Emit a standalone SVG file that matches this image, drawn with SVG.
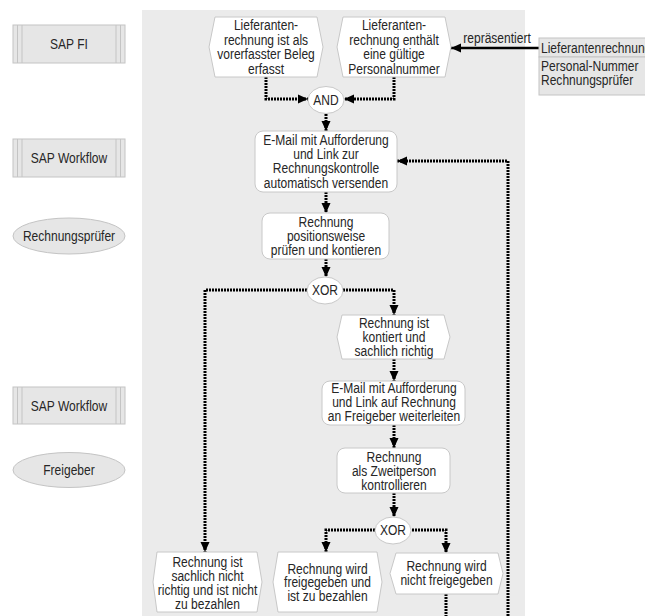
<svg xmlns="http://www.w3.org/2000/svg" width="645" height="616" viewBox="0 0 645 616">
<style>
text{font-family:"Liberation Sans",Arial,sans-serif;font-size:14.5px;fill:#262626;text-anchor:middle}
.bg{fill:#ebebeb}
.ev{fill:#fff;stroke:#c8c8c8;stroke-width:1}
.fn{fill:#fff;stroke:#c8c8c8;stroke-width:1}
.sys{fill:#e6e6e6;stroke:#c4c4c4;stroke-width:1}
.sysl{stroke:#c4c4c4;stroke-width:1;fill:none}
.role{fill:#e6e6e6;stroke:#c4c4c4;stroke-width:1}
.op{fill:#fff;stroke:#c8c8c8;stroke-width:1}
.obj{fill:#e6e6e6;stroke:#c4c4c4;stroke-width:1}
.flow{fill:none;stroke:#000;stroke-width:3;stroke-dasharray:2 1;marker-end:url(#ah)}
.flown{fill:none;stroke:#000;stroke-width:3;stroke-dasharray:2 1}
.rep{fill:none;stroke:#000;stroke-width:2.5;marker-end:url(#ah)}
.l{text-anchor:start}
</style>
<defs>
<marker id="ah" markerUnits="userSpaceOnUse" markerWidth="10" markerHeight="10" viewBox="0 0 10 10" refX="10" refY="5" orient="auto">
<path d="M0,0.5 L10,5 L0,9.5 Z" fill="#000"/>
</marker>
</defs>
<rect class="bg" x="142" y="10" width="383" height="606"/>

<g id="sap-fi">
<rect class="sys" x="13" y="25" width="112" height="38"/>
<path class="sysl" d="M17.5 25V63M22 25V63M116 25V63M120.5 25V63"/>
<g transform="translate(69 0) scale(0.83 1)"><text x="0" y="49.5">SAP FI</text></g>
</g>
<g id="sap-workflow-1">
<rect class="sys" x="13" y="139" width="112" height="38"/>
<path class="sysl" d="M17.5 139V177M22 139V177M116 139V177M120.5 139V177"/>
<g transform="translate(69 0) scale(0.83 1)"><text x="0" y="163.5">SAP Workflow</text></g>
</g>
<g id="rechnungspruefer">
<ellipse class="role" cx="69" cy="236" rx="56" ry="18"/>
<g transform="translate(69 0) scale(0.83 1)"><text x="0" y="241">Rechnungsprüfer</text></g>
</g>
<g id="sap-workflow-2">
<rect class="sys" x="13" y="387" width="112" height="37"/>
<path class="sysl" d="M17.5 387V424M22 387V424M116 387V424M120.5 387V424"/>
<g transform="translate(69 0) scale(0.83 1)"><text x="0" y="411">SAP Workflow</text></g>
</g>
<g id="freigeber">
<ellipse class="role" cx="69" cy="470" rx="56" ry="17.5"/>
<g transform="translate(69 0) scale(0.83 1)"><text x="0" y="475">Freigeber</text></g>
</g>

<g id="connectors">
<path class="flow" d="M266 77V99H308"/>
<path class="flow" d="M394 77V99H344"/>
<path class="flow" d="M326 114V131"/>
<path class="flow" d="M326 192V213"/>
<path class="flow" d="M326 259V277"/>
<path class="flow" d="M307 290H205V552"/>
<path class="flow" d="M343 290H394V315"/>
<path class="flow" d="M394 359V381"/>
<path class="flow" d="M394 425V448"/>
<path class="flow" d="M394 493V517"/>
<path class="flow" d="M375 530H326V552"/>
<path class="flow" d="M412 530H446V553"/>
<path class="flown" d="M446 594V616"/>
<path class="flow" d="M508 616V161H397"/>
<path class="rep" d="M539 48H451"/>
<g transform="translate(497 0) scale(0.83 1)"><text x="0" y="43">repräsentiert</text></g>
</g>

<g id="ev-vorerfasst">
<path class="ev" d="M209 47L215 17H317L323 47L317 77H215Z"/>
<g transform="translate(266 0) scale(0.83 1)">
<text x="0" y="30.5">Lieferanten-</text>
<text x="0" y="45">rechnung ist als</text>
<text x="0" y="59.5">vorerfasster Beleg</text>
<text x="0" y="74">erfasst</text>
</g>
</g>
<g id="ev-personalnummer">
<path class="ev" d="M337 47L343 17H445L451 47L445 77H343Z"/>
<g transform="translate(394 0) scale(0.83 1)">
<text x="0" y="30.5">Lieferanten-</text>
<text x="0" y="45">rechnung enthält</text>
<text x="0" y="59.5">eine gültige</text>
<text x="0" y="74">Personalnummer</text>
</g>
</g>
<g id="obj-lieferantenrechnung">
<rect class="obj" x="539" y="38" width="110" height="19"/>
<rect class="obj" x="539" y="57" width="110" height="38"/>
<g transform="translate(541 0) scale(0.83 1)">
<text class="l" x="0" y="53">Lieferantenrechnung</text>
<text class="l" x="0" y="71.5">Personal-Nummer</text>
<text class="l" x="0" y="85.5">Rechnungsprüfer</text>
</g>
</g>
<g id="and">
<ellipse class="op" cx="326" cy="100" rx="18" ry="13.5"/>
<g transform="translate(326 0) scale(0.83 1)"><text x="0" y="105">AND</text></g>
</g>
<g id="fn-email-1">
<rect class="fn" x="255" y="131" width="142" height="61" rx="8"/>
<g transform="translate(326 0) scale(0.83 1)">
<text x="0" y="145">E-Mail mit Aufforderung</text>
<text x="0" y="159.5">und Link zur</text>
<text x="0" y="173.5">Rechnungskontrolle</text>
<text x="0" y="188">automatisch versenden</text>
</g>
</g>
<g id="fn-pruefen">
<rect class="fn" x="262" y="213" width="127" height="46" rx="8"/>
<g transform="translate(326 0) scale(0.83 1)">
<text x="0" y="227">Rechnung</text>
<text x="0" y="241.5">positionsweise</text>
<text x="0" y="255.5">prüfen und kontieren</text>
</g>
</g>
<g id="xor-1">
<ellipse class="op" cx="325" cy="290.5" rx="18" ry="13.5"/>
<g transform="translate(325 0) scale(0.83 1)"><text x="0" y="295.5">XOR</text></g>
</g>
<g id="ev-kontiert">
<path class="ev" d="M337 337L342 315H444L450 337L444 359H342Z"/>
<g transform="translate(394 0) scale(0.83 1)">
<text x="0" y="328">Rechnung ist</text>
<text x="0" y="342.5">kontiert und</text>
<text x="0" y="356.5">sachlich richtig</text>
</g>
</g>
<g id="fn-email-2">
<rect class="fn" x="322" y="381" width="143" height="44" rx="8"/>
<g transform="translate(394 0) scale(0.83 1)">
<text x="0" y="393">E-Mail mit Aufforderung</text>
<text x="0" y="407.5">und Link auf Rechnung</text>
<text x="0" y="421.5">an Freigeber weiterleiten</text>
</g>
</g>
<g id="fn-zweitperson">
<rect class="fn" x="337" y="448" width="113" height="45" rx="8"/>
<g transform="translate(394 0) scale(0.83 1)">
<text x="0" y="462">Rechnung</text>
<text x="0" y="476">als Zweitperson</text>
<text x="0" y="490">kontrollieren</text>
</g>
</g>
<g id="xor-2">
<ellipse class="op" cx="393" cy="530.5" rx="18" ry="13.5"/>
<g transform="translate(393 0) scale(0.83 1)"><text x="0" y="535.5">XOR</text></g>
</g>
<g id="ev-nicht-richtig">
<path class="ev" d="M153 582L157 552H257L262 582L257 612H157Z"/>
<g transform="translate(207.5 0) scale(0.83 1)">
<text x="0" y="567.5">Rechnung ist</text>
<text x="0" y="581.5">sachlich nicht</text>
<text x="0" y="595.5">richtig und ist nicht</text>
<text x="0" y="609">zu bezahlen</text>
</g>
</g>
<g id="ev-freigegeben">
<path class="ev" d="M273 582L278 552H377L382 582L377 612H278Z"/>
<g transform="translate(327.5 0) scale(0.83 1)">
<text x="0" y="574">Rechnung wird</text>
<text x="0" y="587.5">freigegeben und</text>
<text x="0" y="601">ist zu bezahlen</text>
</g>
</g>
<g id="ev-nicht-freigegeben">
<path class="ev" d="M390 573.5L396 553H498L503 573.5L498 594H396Z"/>
<g transform="translate(446.5 0) scale(0.83 1)">
<text x="0" y="571">Rechnung wird</text>
<text x="0" y="585.5">nicht freigegeben</text>
</g>
</g>
</svg>
